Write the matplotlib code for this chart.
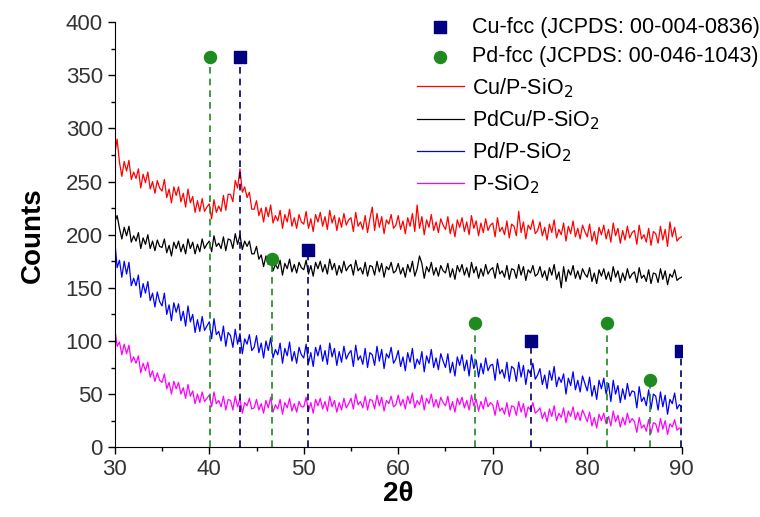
import numpy as np
import matplotlib.pyplot as plt

plt.rcParams['font.family'] = ['Liberation Sans', 'DejaVu Sans']

# counts, one value every 0.25 degree from 30 to 90
cu_sio2 = [276, 290, 268, 255, 269, 260, 270, 252, 259, 253, 262, 244, 257, 249, 259, 243, 250, 239, 251, 244,
           241, 252, 235, 243, 230, 245, 237, 245, 231, 239, 226, 243, 230, 236, 221, 232, 222, 234, 222, 226,
           229, 215, 233, 221, 227, 222, 237, 223, 238, 238, 231, 251, 244, 262, 240, 245, 235, 240, 224, 224,
           232, 218, 225, 212, 226, 217, 228, 211, 218, 213, 223, 206, 219, 212, 224, 208, 216, 206, 219, 212,
           210, 222, 206, 215, 203, 219, 212, 221, 208, 217, 205, 223, 211, 218, 204, 216, 207, 220, 209, 214,
           216, 203, 221, 208, 212, 205, 218, 202, 215, 226, 204, 220, 207, 217, 201, 214, 210, 219, 206, 209,
           218, 205, 213, 201, 216, 208, 220, 203, 228, 206, 217, 200, 214, 207, 219, 204, 212, 202, 215, 209,
           205, 217, 201, 210, 198, 214, 207, 216, 203, 212, 200, 218, 206, 213, 199, 211, 202, 215, 204, 209,
           211, 198, 216, 203, 207, 200, 213, 197, 210, 208, 199, 222, 202, 212, 196, 209, 205, 214, 201, 204,
           212, 199, 207, 195, 210, 202, 214, 197, 205, 200, 211, 194, 208, 201, 213, 198, 206, 196, 209, 203,
           198, 210, 194, 203, 191, 207, 200, 209, 196, 205, 193, 211, 199, 206, 192, 204, 195, 208, 197, 202,
           204, 191, 209, 196, 200, 193, 206, 190, 203, 201, 192, 208, 195, 205, 189, 212, 198, 207, 194, 197,
           198]
pdcu_sio2 = [212, 218, 206, 196, 207, 199, 208, 193, 199, 194, 202, 187, 197, 191, 200, 187, 194, 185, 195, 189,
             188, 196, 183, 190, 180, 193, 187, 194, 184, 191, 182, 196, 187, 193, 182, 191, 184, 196, 187, 191,
             194, 184, 199, 189, 192, 187, 198, 185, 196, 195, 187, 201, 191, 200, 186, 194, 189, 194, 182, 182,
             189, 177, 181, 170, 180, 172, 181, 166, 172, 168, 176, 162, 173, 168, 177, 165, 172, 164, 174, 169,
             167, 176, 163, 171, 161, 174, 168, 175, 165, 172, 163, 177, 167, 173, 162, 171, 164, 175, 166, 170,
             172, 162, 176, 166, 169, 163, 174, 161, 171, 170, 162, 175, 165, 173, 160, 170, 167, 174, 164, 166,
             173, 163, 169, 160, 172, 165, 175, 161, 168, 180, 173, 159, 170, 165, 174, 162, 169, 161, 171, 166,
             164, 173, 160, 168, 158, 171, 165, 172, 162, 169, 160, 174, 164, 170, 159, 168, 161, 172, 163, 167,
             169, 159, 173, 163, 166, 160, 171, 158, 168, 167, 159, 172, 162, 170, 157, 167, 164, 171, 161, 163,
             170, 160, 166, 157, 169, 162, 172, 158, 165, 150, 170, 156, 167, 162, 171, 159, 166, 158, 168, 163,
             160, 169, 156, 164, 154, 167, 161, 168, 158, 165, 156, 170, 160, 166, 155, 164, 157, 168, 159, 163,
             165, 155, 169, 159, 162, 156, 167, 154, 164, 163, 155, 168, 158, 166, 153, 163, 160, 167, 157, 159,
             160]
pd_sio2 = [195, 169, 176, 160, 175, 163, 174, 152, 159, 152, 162, 141, 154, 145, 156, 138, 145, 132, 146, 137,
           133, 145, 125, 134, 119, 136, 127, 135, 119, 128, 114, 133, 118, 125, 108, 120, 109, 123, 110, 114,
           118, 102, 121, 106, 109, 100, 114, 95, 108, 105, 94, 111, 97, 107, 88, 102, 97, 106, 91, 94,
           105, 89, 98, 84, 100, 91, 103, 84, 92, 87, 98, 79, 93, 86, 99, 81, 90, 79, 94, 87,
           84, 97, 79, 89, 76, 94, 86, 96, 81, 91, 78, 98, 85, 93, 77, 90, 80, 95, 83, 88,
           91, 76, 96, 82, 86, 78, 93, 75, 89, 87, 77, 95, 81, 92, 74, 88, 84, 94, 79, 83,
           91, 76, 85, 72, 89, 80, 93, 74, 83, 78, 90, 71, 86, 79, 92, 75, 84, 73, 88, 81,
           75, 88, 70, 80, 67, 85, 77, 87, 72, 82, 67, 87, 74, 82, 66, 79, 69, 84, 72, 77,
           78, 63, 83, 69, 73, 65, 80, 62, 76, 74, 62, 80, 66, 77, 59, 73, 69, 79, 64, 68,
           74, 59, 68, 55, 72, 63, 76, 57, 66, 61, 69, 50, 65, 58, 71, 54, 63, 52, 67, 60,
           53, 66, 48, 58, 45, 63, 55, 65, 50, 60, 43, 63, 50, 58, 42, 55, 45, 60, 48, 53,
           52, 37, 57, 43, 47, 39, 54, 36, 50, 48, 35, 52, 38, 49, 31, 45, 41, 51, 36, 40,
           38]
p_sio2 = [112, 95, 99, 87, 97, 88, 96, 80, 85, 79, 86, 70, 79, 72, 80, 66, 72, 62, 70, 63,
          61, 69, 55, 61, 50, 62, 55, 61, 50, 56, 46, 59, 48, 53, 41, 50, 42, 52, 43, 46,
          49, 38, 52, 41, 44, 38, 48, 35, 45, 44, 35, 48, 38, 46, 32, 42, 39, 46, 36, 37,
          45, 35, 41, 32, 44, 37, 47, 33, 40, 36, 45, 31, 42, 37, 46, 34, 41, 33, 43, 38,
          38, 47, 34, 42, 32, 45, 39, 46, 36, 43, 34, 48, 38, 44, 33, 42, 35, 46, 37, 41,
          46, 36, 50, 40, 43, 37, 48, 35, 45, 44, 36, 49, 39, 47, 34, 44, 41, 48, 38, 40,
          49, 39, 45, 36, 48, 41, 51, 37, 44, 40, 49, 35, 46, 41, 50, 38, 45, 37, 47, 42,
          39, 48, 35, 43, 33, 46, 40, 47, 37, 44, 35, 49, 39, 45, 34, 43, 36, 47, 38, 42,
          40, 30, 44, 34, 37, 31, 42, 29, 39, 38, 30, 43, 33, 41, 28, 38, 35, 42, 32, 34,
          37, 27, 33, 24, 36, 29, 39, 25, 32, 28, 37, 23, 34, 29, 38, 26, 33, 25, 35, 30,
          24, 33, 20, 28, 18, 31, 25, 32, 22, 29, 20, 34, 24, 30, 19, 28, 21, 32, 23, 27,
          24, 14, 28, 18, 21, 15, 26, 13, 23, 22, 14, 27, 17, 25, 12, 22, 19, 26, 16, 18,
          18]

series_labels = ['Cu/P-SiO$_2$', 'PdCu/P-SiO$_2$', 'Pd/P-SiO$_2$', 'P-SiO$_2$']
series_colors = ['#ff0000', 'black', '#0000ff', '#ff00ff']

# reference peak positions and marker heights
cu_pos = [43.3, 50.4, 74.1, 89.9]
cu_h = [367, 186, 100, 91]
pd_pos = [40.1, 46.6, 68.1, 82.1, 86.6]
pd_h = [367, 177, 117, 117, 63]

fig = plt.figure(figsize=(7.6, 5.17), dpi=100)
ax = fig.add_axes([0.151, 0.135, 0.746, 0.822])

for vals, lab, col in zip([cu_sio2, pdcu_sio2, pd_sio2, p_sio2], series_labels, series_colors):
    x = np.linspace(30, 90, len(vals))
    ax.plot(x, vals, color=col, lw=0.9, label=lab)

for p, h in zip(cu_pos, cu_h):
    ax.plot([p, p], [0, h], color='#000066', ls=(0, (4, 3)), lw=1.2)
for p, h in zip(pd_pos, pd_h):
    ax.plot([p, p], [0, h], color='#1f8a1f', ls=(0, (4, 3)), lw=1.2)
ax.scatter(cu_pos, cu_h, marker='s', s=70, color='#000080', zorder=5,
           label='Cu-fcc (JCPDS: 00-004-0836)')
ax.scatter(pd_pos, pd_h, marker='o', s=75, color='#1f8a1f', zorder=5,
           label='Pd-fcc (JCPDS: 00-046-1043)')

ax.set_xlim(30, 90)
ax.set_ylim(0, 400)
ax.set_xticks(np.arange(30, 91, 10))
ax.set_xticks(np.arange(30, 91, 5), minor=True)
ax.set_yticks(np.arange(0, 401, 50))
ax.set_yticks(np.arange(0, 401, 25), minor=True)
ax.tick_params(direction='out', labelsize=16, length=5, width=1, labelcolor='#333333')
ax.tick_params(which='minor', direction='out', length=3, width=1)
ax.spines['top'].set_visible(False)
ax.spines['right'].set_visible(False)
ax.set_xlabel('2θ', fontsize=20, fontweight='bold', labelpad=1)
ax.set_ylabel('Counts', fontsize=20, fontweight='bold', labelpad=14)

h, l = ax.get_legend_handles_labels()
order = [4, 5, 0, 1, 2, 3]
ax.legend([h[i] for i in order], [l[i] for i in order], loc='upper left',
          bbox_to_anchor=(0.526, 1.023), frameon=False, fontsize=15.5,
          handlelength=2.15, labelspacing=0.4, handletextpad=0.4,
          borderpad=0.2, borderaxespad=0)

fig.savefig('out.png', dpi=100)
